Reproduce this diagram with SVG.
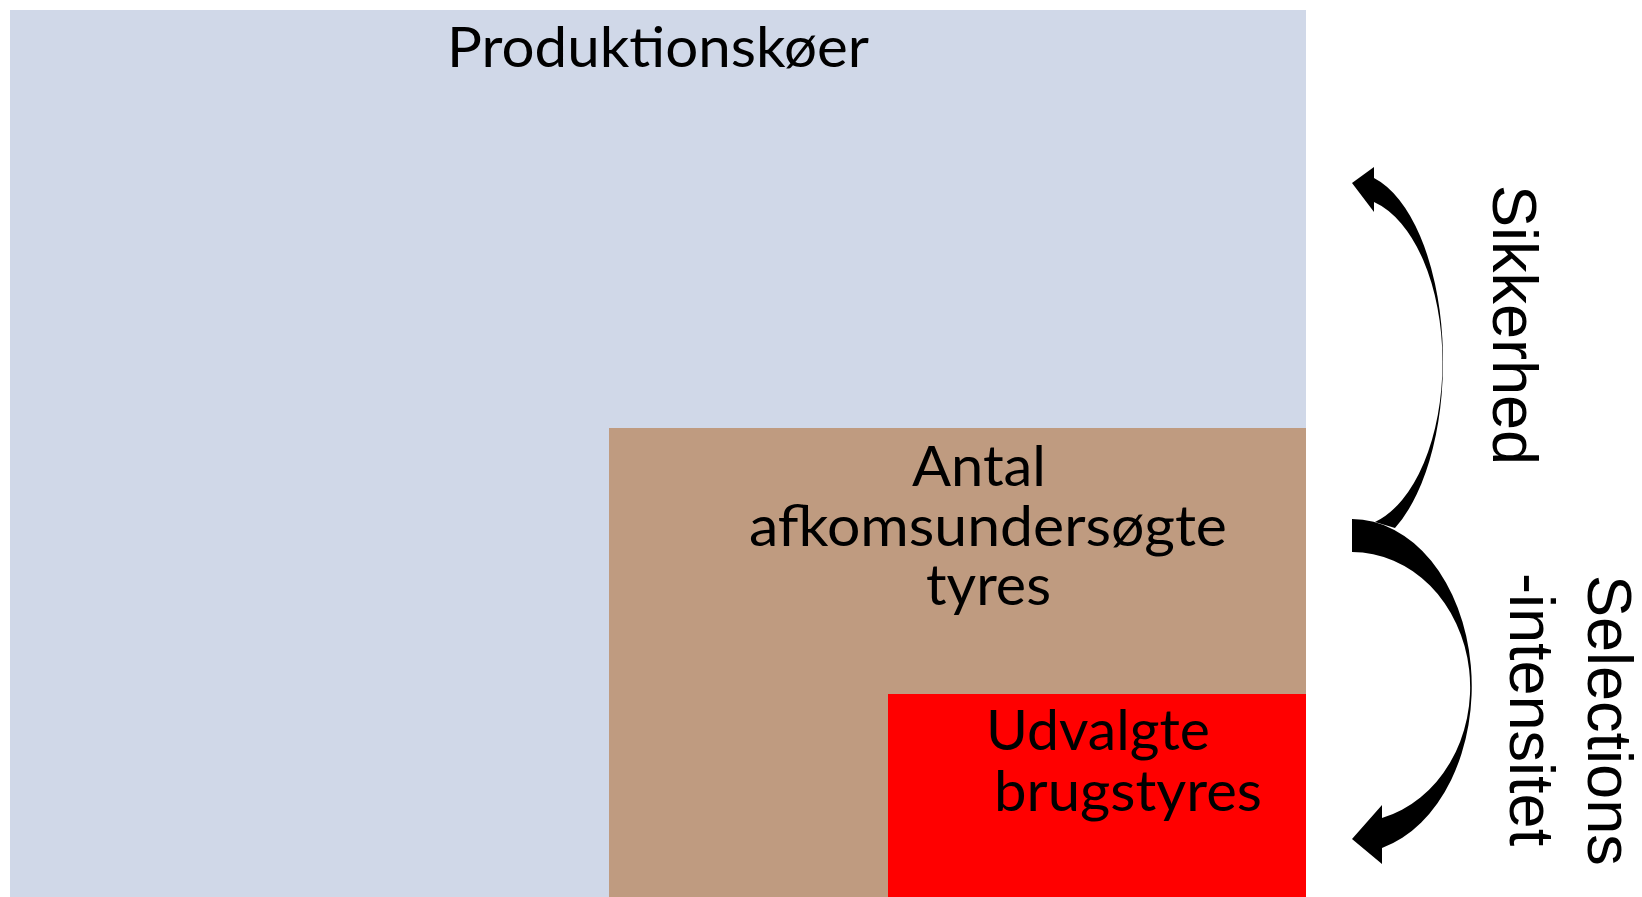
<svg xmlns="http://www.w3.org/2000/svg" width="1642" height="897" viewBox="0 0 1642 897">
<style>
.box{font-family:Lato,"Open Sans","Liberation Sans",sans-serif;font-size:56px;fill:#000}
.side{font-family:"Liberation Sans",Arial,sans-serif;font-size:63px;fill:#000}
.arr{fill:#000;stroke:none}
</style>
<rect width="1642" height="897" fill="#fff"/>
<g id="produktionskoer">
<rect x="10" y="10" width="1296" height="887" fill="#D0D8E8"/>
<text class="box" x="447" y="67" textLength="422" lengthAdjust="spacingAndGlyphs">Produktionskøer</text>
</g>
<g id="afkomsundersoegte">
<rect x="609" y="428" width="697" height="469" fill="#BF9B80"/>
<text class="box" x="912" y="486" textLength="134" lengthAdjust="spacingAndGlyphs">Antal</text>
<text class="box" x="749" y="546" textLength="478" lengthAdjust="spacingAndGlyphs">afkomsundersøgte</text>
<text class="box" x="926" y="605" textLength="125" lengthAdjust="spacingAndGlyphs">tyres</text>
</g>
<g id="udvalgte">
<rect x="888" y="694" width="418" height="203" fill="#FF0000"/>
<text class="box" x="986" y="750" textLength="224" lengthAdjust="spacingAndGlyphs">Udvalgte</text>
<text class="box" x="994" y="811" textLength="268" lengthAdjust="spacingAndGlyphs">brugstyres</text>
</g>
<g id="connectors">
<path class="arr" d="M1352,183 L1374,167 L1374,178 A91,189 0 0 1 1395,528 L1375,522 A90,165 0 0 0 1374,202 L1374,212 Z"/>
<path class="arr" d="M1352,519 A120,167.2 0 0 1 1382,848 L1382,864 L1352,839 L1382,805 L1382,818 A118,135.2 0 0 0 1352,552 Z"/>
</g>
<g id="labels">
<text class="side" transform="translate(1493,185) rotate(90)">Sikkerhed</text>
<text class="side" transform="translate(1588,575) rotate(90)">Selections</text>
<text class="side" transform="translate(1510,573) rotate(90)">-intensitet</text>
</g>
</svg>
